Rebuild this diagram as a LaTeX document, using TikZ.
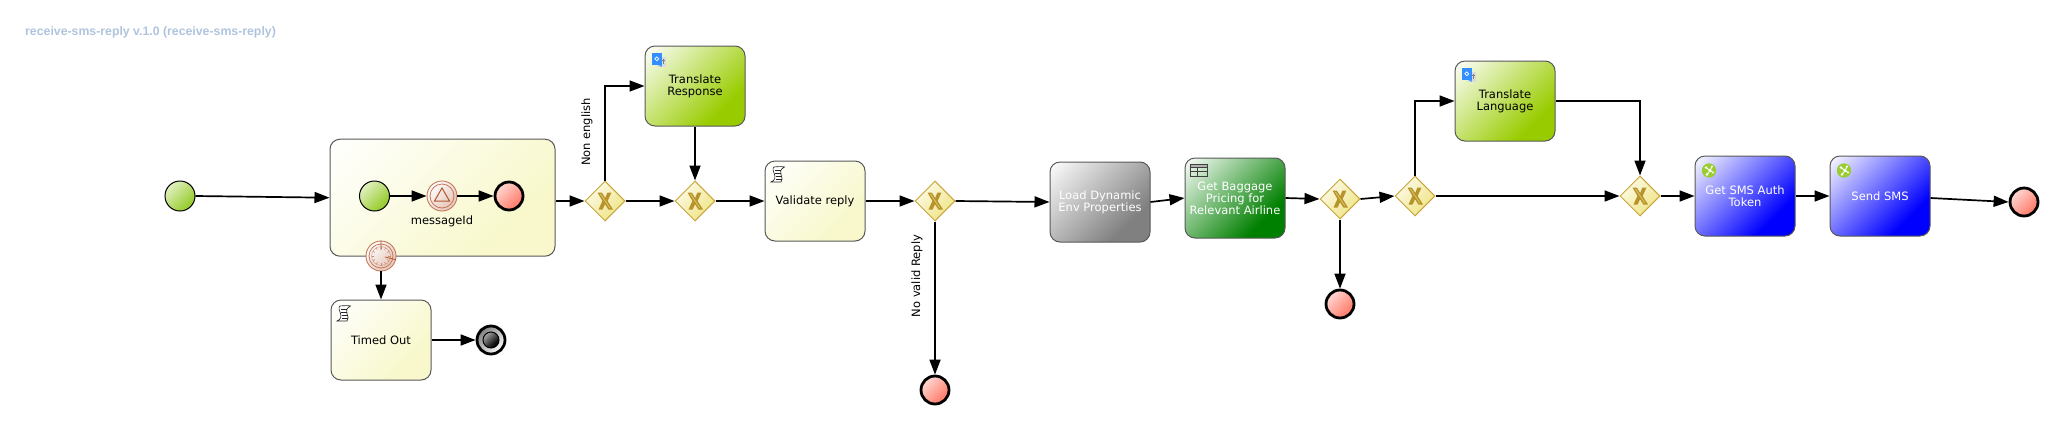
\documentclass[tikz,border=0pt]{standalone}
\usepackage{fontspec}
\usetikzlibrary{shapes.geometric,arrows.meta,calc}
\setmainfont{DejaVu Sans}
\newfontfamily\titlefont{Liberation Sans}
\definecolor{yel}{HTML}{F8F8CC}
\definecolor{gre}{HTML}{99CC00}
\definecolor{gry}{HTML}{808080}
\definecolor{dgr}{HTML}{008000}
\definecolor{blu}{HTML}{0000FF}
\definecolor{evg}{HTML}{9ACD32}
\definecolor{evr}{HTML}{FF7F6E}
\definecolor{gold}{HTML}{C8A53A}
\definecolor{gate}{HTML}{F0E68C}
\definecolor{xcol}{HTML}{B8922A}
\definecolor{copper}{HTML}{B5552F}
\definecolor{ttl}{HTML}{B0C4DE}
\newcommand{\mkshade}[2]{\pgfdeclareverticalshading{#1}{100bp}{color(0bp)=(#2);color(30bp)=(#2);color(86bp)=(white);color(100bp)=(white)}}
\mkshade{yelS}{yel}
\mkshade{greS}{gre}
\mkshade{gryS}{gry}
\mkshade{dgrS}{dgr}
\mkshade{bluS}{blu}
\mkshade{gateS}{gate}
\pgfdeclareverticalshading{startS}{100bp}{color(0bp)=(evg);color(30bp)=(evg);color(75bp)=(evg!30!white);color(100bp)=(evg!20!white)}
\pgfdeclareverticalshading{endS}{100bp}{color(0bp)=(evr);color(30bp)=(evr);color(75bp)=(evr!30!white);color(100bp)=(evr!20!white)}
\pgfdeclareverticalshading{termS}{100bp}{color(0bp)=(black);color(35bp)=(black!95);color(75bp)=(black!35);color(100bp)=(black!20)}
\pgfdeclareverticalshading{interS}{100bp}{color(0bp)=(copper!30!white);color(35bp)=(copper!30!white);color(75bp)=(white);color(100bp)=(white)}
\tikzset{
 flow/.style={draw=black,line width=1.7pt,-{Triangle[length=15pt,width=11pt]}},
 task/.style={draw=black!65,line width=1pt,rounded corners=10pt,minimum width=100pt,minimum height=80pt,inner sep=0pt,align=center,font=\fontsize{11.5}{12}\selectfont,shading angle=45,execute at begin node={\vspace*{2pt}}},
 ev/.style={circle,minimum size=30pt,inner sep=0pt,draw=black,shading angle=45},
 startev/.style={ev,line width=1pt,shading=startS},
 endev/.style={ev,line width=2.8pt,shading=endS,minimum size=28pt},
 interev/.style={ev,draw=copper!80,line width=.9pt,shading=interS},
 gateway/.style={diamond,aspect=1,inner sep=0pt,minimum width=40pt,minimum height=40pt,draw=gold,line width=1pt,shading=gateS,shading angle=45},
 lab/.style={inner sep=0pt,font=\fontsize{11.5}{12}\selectfont},
}
\newcommand{\gatew}[3]{%
 \node[gateway] (#1) at (#2,#3) {};
 \begin{scope}[shift={(#2,#3)}]
  \fill[xcol] (-7.5,-8.5)--(-3.2,-8.5)--(0.2,-3)--(2.4,-8.5)--(6.5,-8.5)--(2.6,0)--(8,8.5)--(3.4,8.5)--(0,3.2)--(-2.4,8.5)--(-6.5,8.5)--(-2.6,0)--cycle;
  \draw[gate,line width=.7pt,opacity=.7] (-4.6,-7)--(4.9,7);
 \end{scope}}
\newcommand{\scripticon}[2]{%
 \begin{scope}[shift={(#1,#2)},draw=black!85,line width=.65pt]
  \draw[fill=white] (-4,-7.5) .. controls (0,-8) and (5,-8) .. (6.5,-7.5) .. controls (2,-5) and (2,-3) .. (3,0) .. controls (4,3) and (5,6) .. (3,7.5) -- (-7,7.5) .. controls (-3,6) and (-2.5,3) .. (-3.5,0) .. controls (-4.5,-3) and (-6,-6) .. (-4,-7.5) -- cycle;
  \draw (-3,-4.5)--(3,-4.5) (-2.6,-1.5)--(3,-1.5) (-2.4,1.5)--(3.5,1.5) (-2,4.5)--(4,4.5);
 \end{scope}}
\newcommand{\transicon}[2]{%
 \begin{scope}[shift={(#1,#2)}]
  \fill[black!14] (-2,-3) rectangle (7,7);
  \draw[black!50,line width=.7pt] (2.5,0)--(6,0) (4.2,-1)--(4.2,4);
  \fill[blue!55!cyan!80!white] (-7,-7) rectangle (2.5,4.5);
  \fill[blue!55!cyan!80!white] (-1,4.5)--(2.5,4.5)--(2.5,7)--cycle;
  \draw[white,line width=.7pt] (-2.2,-1.2) circle (1.9pt);
 \end{scope}}
\newcommand{\serviceicon}[2]{%
 \begin{scope}[shift={(#1,#2)}]
  \fill[evg] (0,0) circle (7.2pt);
  \draw[white,line width=.9pt] (-3,-3)--(1,0)--(-2,4) (3,-4)--(1,0)--(4,2);
  \fill[white] (-3,-3) circle (1.3pt) (3,-4) circle (1.2pt) (-2,4) circle (1.3pt) (4,2) circle (1.2pt) (1,0) circle (1.6pt);
 \end{scope}}
\newcommand{\tableicon}[2]{%
 \begin{scope}[shift={(#1,#2)},draw=black!75,line width=.7pt]
  \fill[black!30] (-8.5,-6) rectangle (8.5,-2.5);
  \draw (-8.5,-6) rectangle (8.5,6) (-8.5,-2.5)--(8.5,-2.5) (-8.5,1.8)--(8.5,1.8) (-1.5,-2.5)--(-1.5,6);
 \end{scope}}
\begin{document}
\begin{tikzpicture}[x=1pt,y=-1pt]
\useasboundingbox[fill=white] (0,0) rectangle (2063,429);
\node[inner sep=0pt,anchor=west,text=ttl,font=\titlefont\bfseries\fontsize{12.3}{13}\selectfont] (title) at (25,32) {receive-sms-reply v.1.0 (receive-sms-reply)};

% tasks
\node[task,minimum width=225pt,minimum height=117pt,shading=yelS] (sub) at (442.5,197.7) {};
\node[task,shading=yelS] (timed) at (381,340) {Timed Out};
\node[task,shading=greS] (tr) at (695,86) {Translate\\Response};
\node[task,shading=yelS] (val) at (815,201) {Validate reply};
\node[task,shading=gryS,text=white] (load) at (1100,202) {Load Dynamic\\Env Properties};
\node[task,shading=dgrS,text=white] (bag) at (1235,198) {Get Baggage\\Pricing for\\Relevant Airline};
\node[task,shading=greS] (tl) at (1505,101) {Translate\\Language};
\node[task,shading=bluS,text=white] (sms) at (1745,196) {Get SMS Auth\\Token};
\node[task,shading=bluS,text=white] (send) at (1880,196) {Send SMS};

% icons
\scripticon{344}{313.5}
\scripticon{778}{174.5}
\transicon{659}{60}
\transicon{1469}{75}
\tableicon{1198.5}{170}
\serviceicon{1709}{170.5}
\serviceicon{1844}{170.5}

% events
\node[startev] (s0) at (180,196) {};
\node[startev] (i0) at (374.5,196) {};
\node[interev] (msg) at (442,196) {};
\draw[copper!80,line width=.8pt] (msg) circle (12pt);
\draw[copper,line width=1pt] ($(msg)+(0,-8)$)--($(msg)+(7.5,5)$)--($(msg)+(-7.5,5)$)--cycle;
\node[endev] (i1) at (509,196) {};
\node[lab] (msglab) at (442,221) {messageId};
\node[interev] (timer) at (381,256) {};
\draw[copper!80,line width=.8pt] (timer) circle (12pt);
\draw[copper!60,line width=.5pt] (timer) circle (9.5pt);
\foreach \a in {0,30,...,330}{\draw[copper!70,line width=.5pt] ($(timer)+(\a:7)$)--($(timer)+(\a:9.5)$);}
\draw[copper,line width=.8pt] ($(timer)+(0,-6)$)--(timer)--($(timer)+(4,1)$);
\node[ev,minimum size=28pt,fill=evr,draw=black,line width=2.8pt] (term) at (491,340) {};
\node[circle,minimum size=16pt,inner sep=0pt,draw=black,line width=1pt,shading=termS,shading angle=45] (termin) at (term) {};
\node[endev] (e3) at (935,390) {};
\node[endev] (e4) at (1340,304) {};
\node[endev] (e5) at (2024,202) {};

% gateways
\gatew{g1}{605}{201}
\gatew{g2}{695}{201}
\gatew{g3}{935}{201}
\gatew{g4}{1340}{199}
\gatew{g5}{1415}{196}
\gatew{g6}{1640}{196}

% flows
\draw[flow] (s0.east) -- (sub.west);
\draw[flow] (i0.east) -- (msg.west);
\draw[flow] (msg.east) -- (i1.west);
\draw[flow] (timer.south) -- (timed.north);
\draw[flow] (timed.east) -- (term.west);
\draw[flow] (sub.east |- g1.west) -- (g1.west);
\draw[flow] (g1.north) |- (tr.west);
\draw[flow] (g1.east) -- (g2.west);
\draw[flow] (tr.south) -- (g2.north);
\draw[flow] (g2.east) -- (val.west);
\draw[flow] (val.east) -- (g3.west);
\draw[flow] (g3.east) -- (load.west);
\draw[flow] (g3.south) -- (e3.north);
\draw[flow] (load.east) -- (bag.west);
\draw[flow] (bag.east) -- (g4.west);
\draw[flow] (g4.south) -- (e4.north);
\draw[flow] (g4.east) -- (g5.west);
\draw[flow] (g5.north) |- (tl.west);
\draw[flow] (g5.east) -- (g6.west);
\draw[flow] (tl.east) -| (g6.north);
\draw[flow] (g6.east) -- (sms.west);
\draw[flow] (sms.east) -- (send.west);
\draw[flow] ($(send.east)+(0,2)$) -- (e5.west);

% labels
\node[lab,rotate=90] (l1) at (587,132) {Non english};
\node[lab,rotate=90] (l2) at (917,276) {No valid Reply};
\end{tikzpicture}
\end{document}
